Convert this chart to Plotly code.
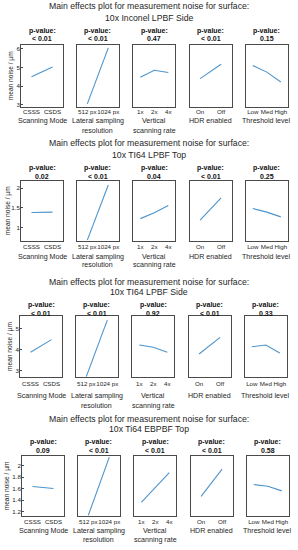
import plotly.graph_objects as go

W, H = 298, 550

# ---- data ----
surfaces = ["10x Inconel LPBF Side", "10x TI64 LPBF Top", "10x TI64 LPBF Side", "10x Ti64 EBPBF Top"]
factors = ["Scanning Mode", "Lateral sampling<br>resolution", "Vertical<br>scanning rate", "HDR enabled", "Threshold level"]
levels_scan = ["CSSS", "CSDS"]
levels_lateral = ["512 px", "1024 px"]
levels_vertical = ["1x", "2x", "4x"]
levels_hdr = ["On", "Off"]
levels_threshold = ["Low", "Med", "High"]
levels = [levels_scan, levels_lateral, levels_vertical, levels_hdr, levels_threshold]

pvals_inconel_side = ["< 0.01", "< 0.01", "0.47", "< 0.01", "0.15"]
pvals_ti64_top = ["0.02", "< 0.01", "0.04", "< 0.01", "0.25"]
pvals_ti64_side = ["< 0.01", "< 0.01", "0.92", "< 0.01", "0.33"]
pvals_ebpbf_top = ["0.09", "< 0.01", "< 0.01", "< 0.01", "0.58"]

means_inconel_side = [[4.50, 5.03], [3.05, 6.05], [4.47, 4.85, 4.73], [4.40, 5.17], [5.10, 4.75, 4.22]]
means_ti64_top = [[1.38, 1.39], [0.68, 2.08], [1.225, 1.375, 1.56], [1.19, 1.75], [1.48, 1.39, 1.27]]
means_ti64_side = [[3.87, 4.48], [2.70, 5.42], [4.22, 4.11, 3.87], [3.79, 4.59], [4.14, 4.22, 3.84]]
means_ebpbf_top = [[1.635, 1.60], [1.13, 2.15], [1.36, 1.62, 1.88], [1.465, 1.94], [1.67, 1.64, 1.56]]

yticks_inconel_side = [3, 4, 5, 6]
yticks_ti64_top = [1, 1.5, 2]
yticks_ti64_side = [3, 4, 5]
yticks_ebpbf_top = [1.2, 1.4, 1.6, 1.8, 2]

ylims = [[2.88, 6.23], [0.67, 2.18], [2.68, 5.62], [1.12, 2.17]]

pvals = [pvals_inconel_side, pvals_ti64_top, pvals_ti64_side, pvals_ebpbf_top]
means = [means_inconel_side, means_ti64_top, means_ti64_side, means_ebpbf_top]
yticks = [yticks_inconel_side, yticks_ti64_top, yticks_ti64_side, yticks_ebpbf_top]

# ---- layout geometry (pixels) ----
blocks = [
    dict(dx=0.0, top=44.5, bot=107.0, t1=6.3, t2=18.2, p1=31.3, p2=38.8, ax1=120.5, sp=10.0, so=-1, yl=10.5),
    dict(dx=0.0, top=181.0, bot=240.5, t1=143.3, t2=155.0, p1=168.3, p2=176.5, ax1=256.5, sp=8.8, so=0, yl=7.5),
    dict(dx=-1.0, top=316.0, bot=377.0, t1=282.0, t2=292.3, p1=304.7, p2=313.0, ax1=395.5, sp=10.0, so=1, yl=9.5),
    dict(dx=1.0, top=456.0, bot=516.0, t1=419.0, t2=429.3, p1=442.3, p2=450.5, ax1=530.8, sp=8.8, so=0, yl=7.3),
]
panel_left = [21.0, 76.8, 133.3, 189.6, 245.8]
panel_w = 42.0

def px_x(x):
    return x / W

def px_y(y):
    return 1 - y / H

FONT = "Liberation Sans, Arial, Helvetica, sans-serif"
LINE_COLOR = "#4d94cc"
AX_COLOR = "#4a4a4a"
TXT = "#262626"

fig = go.Figure()
annotations = []
idx = 0
for b, blk in enumerate(blocks):
    # block title
    annotations.append(dict(text="Main effects plot for measurement noise for surface:", x=0.5, y=px_y(blk["t1"]),
                            xref="paper", yref="paper", showarrow=False, xanchor="center", yanchor="middle",
                            font=dict(size=8.7, color=TXT, family=FONT)))
    annotations.append(dict(text=surfaces[b], x=0.5, y=px_y(blk["t2"]),
                            xref="paper", yref="paper", showarrow=False, xanchor="center", yanchor="middle",
                            font=dict(size=8.7, color=TXT, family=FONT)))
    # y axis label
    annotations.append(dict(text="mean noise / \u00b5m", x=px_x(blk["yl"]), y=px_y((blk["top"] + blk["bot"]) / 2),
                            xref="paper", yref="paper", showarrow=False, textangle=-90,
                            xanchor="center", yanchor="middle",
                            font=dict(size=6.6, color=TXT, family=FONT)))
    for f in range(5):
        idx += 1
        sfx = "" if idx == 1 else str(idx)
        x0 = panel_left[f] + blk["dx"]
        x1 = x0 + panel_w
        cx = (x0 + x1) / 2
        n = len(levels[f])
        xs = list(range(1, n + 1))
        fig.add_trace(go.Scatter(x=xs, y=means[b][f], mode="lines",
                                 line=dict(color=LINE_COLOR, width=1.1),
                                 xaxis="x" + sfx, yaxis="y" + sfx, showlegend=False,
                                 hoverinfo="skip"))
        fig.layout["xaxis" + sfx] = dict(
            domain=[px_x(x0), px_x(x1)], anchor="y" + sfx, range=[0.5, n + 0.5],
            tickmode="array", tickvals=xs, ticktext=levels[f], ticks="", showgrid=False,
            tickangle=0, ticklabelstandoff=blk["so"],
            zeroline=False, showline=True, mirror=True, linecolor=AX_COLOR, linewidth=0.8,
            tickfont=dict(size=6.2, color=TXT, family=FONT), fixedrange=True,
        )
        yax = dict(
            domain=[px_y(blk["bot"]), px_y(blk["top"])], anchor="x" + sfx, range=ylims[b],
            showgrid=False, zeroline=False, showline=True, mirror=True, linecolor=AX_COLOR,
            linewidth=0.8, fixedrange=True, tickangle=0,
        )
        if f == 0:
            yax.update(tickmode="array", tickvals=yticks[b], ticks="inside", ticklen=2,
                       tickcolor=AX_COLOR, tickwidth=0.8, ticklabelstandoff=-1,
                       tickfont=dict(size=6.2, color=TXT, family=FONT))
        else:
            yax.update(showticklabels=False, ticks="")
        fig.layout["yaxis" + sfx] = yax
        # p-value titles
        annotations.append(dict(text="<b>p-value:</b>", x=px_x(cx), y=px_y(blk["p1"]), xref="paper", yref="paper",
                                showarrow=False, xanchor="center", yanchor="middle",
                                font=dict(size=7.0, color="#111111", family=FONT)))
        annotations.append(dict(text="<b>" + pvals[b][f].replace("<", "&lt;") + "</b>", x=px_x(cx), y=px_y(blk["p2"]),
                                xref="paper", yref="paper",
                                showarrow=False, xanchor="center", yanchor="middle",
                                font=dict(size=7.0, color="#111111", family=FONT)))
        # x axis title lines
        for li, line in enumerate(factors[f].split("<br>")):
            annotations.append(dict(text=line, x=px_x(cx), y=px_y(blk["ax1"] + li * blk["sp"]),
                                    xref="paper", yref="paper", showarrow=False,
                                    xanchor="center", yanchor="middle",
                                    font=dict(size=7.1, color=TXT, family=FONT)))

fig.update_layout(
    width=W, height=H, margin=dict(l=0, r=0, t=0, b=0),
    paper_bgcolor="white", plot_bgcolor="white",
    annotations=annotations, showlegend=False,
    font=dict(family=FONT),
)
fig.write_html("out.html", config={"displayModeBar": False},
               post_script="document.body.style.margin='0';document.body.style.padding='0';document.body.style.overflow='hidden';")
